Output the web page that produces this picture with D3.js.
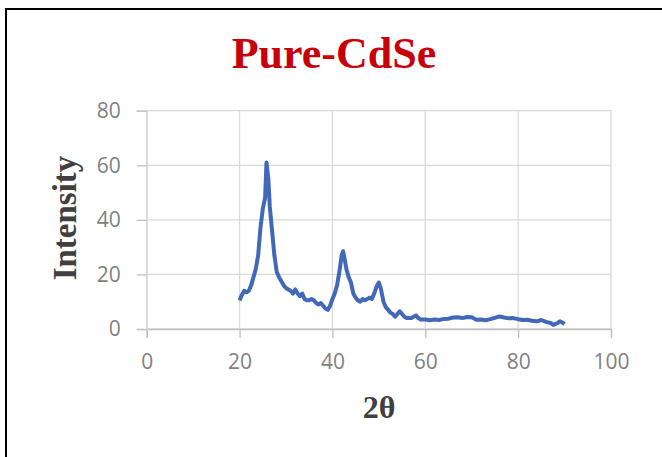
<!DOCTYPE html>
<html>
<head>
<meta charset="utf-8">
<script src="https://cdn.jsdelivr.net/npm/d3@7"></script>
<style>
  body { margin: 0; background: #fff; }
</style>
</head>
<body>
<script>
// xrd pattern of pure CdSe

var twoTheta = [20, 20.5, 21, 21.5, 22, 22.5, 23, 23.5, 24, 24.5, 25, 25.5, 25.8, 26.2, 26.5, 27, 27.5, 28, 28.5, 29, 29.5, 30,
  30.5, 31, 31.5, 32, 32.5, 33, 33.5, 34, 34.5, 35, 35.5, 36, 36.5, 37, 37.5, 38, 38.5, 39, 39.5, 40, 40.5, 41, 41.5, 42,
  42.3, 42.7, 43, 43.5, 44, 44.5, 45, 45.5, 46, 46.5, 47, 47.5, 48, 48.5, 49, 49.5, 50, 50.4, 51, 51.5, 52, 52.5, 53, 53.5,
  54, 54.5, 55, 55.5, 56, 57, 58, 58.5, 59, 60, 61, 62, 63, 64, 65, 66, 67, 68, 69, 70, 71, 72, 73, 74, 75, 76, 77, 78,
  79, 80, 81, 82, 83, 84, 85, 86, 87, 87.6, 88.5, 89, 89.5, 90];
var intensity = [10.5, 12.5, 14, 13.5, 14, 16, 19, 22, 27, 37, 44, 48, 61, 55, 45, 36, 27, 21, 19, 17.5, 16, 15,
  14.5, 14, 13, 14.5, 13, 12, 13, 11, 10.5, 10.5, 11, 10.5, 9.5, 9, 9.5, 8.5, 7.5, 7, 8.5, 11, 13, 16, 21, 27,
  28.5, 25, 22, 19, 17, 13, 11.5, 10.5, 10, 11, 10.5, 11, 11.5, 11, 13, 15.5, 17, 15, 10, 8, 7, 6, 5.5, 4.5,
  5.5, 6.5, 5.5, 4.5, 4, 4, 5, 4, 3.5, 3.5, 3.2, 3.5, 3.3, 3.7, 3.8, 4.2, 4.3, 4, 4.4, 4.3, 3.4, 3.5, 3.2, 3.6, 4.1, 4.6, 4.2, 3.9,
  4, 3.6, 3.3, 3.4, 3, 2.8, 3.3, 2.6, 2.2, 1.5, 2.2, 2.8, 2.4, 1.8];

var xTicks = [0, 20, 40, 60, 80, 100];
var yTicks = [0, 20, 40, 60, 80];

var chartTitle = "Pure-CdSe",
    xTitle = "2θ",
    yTitle = "Intensity";

var width = 662, height = 457;

var svg = d3.select("body").append("svg")
  .attr("width", width)
  .attr("height", height);

// outer frame
svg.append("rect")
  .attr("x", 6).attr("y", 9)
  .attr("width", 720).attr("height", 520)
  .attr("fill", "none")
  .attr("stroke", "#000")
  .attr("stroke-width", 2);

var x = d3.scaleLinear().domain([0, 100]).range([146.7, 611]);
var y = d3.scaleLinear().domain([0, 80]).range([329, 110.7]);

// gridlines
svg.append("g")
  .selectAll("line.v")
  .data(xTicks)
  .enter().append("line")
  .attr("x1", function(d){ return x(d); })
  .attr("x2", function(d){ return x(d); })
  .attr("y1", y(80)).attr("y2", y(0))
  .attr("stroke", "#d9d9d9").attr("stroke-width", 1.3);

svg.append("g")
  .selectAll("line.h")
  .data(yTicks)
  .enter().append("line")
  .attr("x1", x(0)).attr("x2", x(100))
  .attr("y1", function(d){ return y(d); })
  .attr("y2", function(d){ return y(d); })
  .attr("stroke", "#d9d9d9").attr("stroke-width", 1.3);

// axes
var xAxis = svg.append("g")
  .attr("transform", "translate(0," + y(0) + ")")
  .call(d3.axisBottom(x).tickValues(xTicks).tickSize(9).tickPadding(16));
var yAxis = svg.append("g")
  .attr("transform", "translate(" + x(0) + ",0)")
  .call(d3.axisLeft(y).tickValues(yTicks).tickSize(10).tickPadding(16));

[xAxis, yAxis].forEach(function(g){
  g.select(".domain").attr("stroke", "#bfbfbf").attr("stroke-width", 1.3);
  g.selectAll(".tick line").attr("stroke", "#bfbfbf").attr("stroke-width", 1.3);
  g.selectAll("text")
    .attr("fill", "#7f7f7f")
    .style("font-family", "'Open Sans', 'Liberation Sans', sans-serif")
    .style("font-size", "21px");
});
yAxis.select(".domain").attr("stroke", "#d9d9d9");

// the pattern
var line = d3.line()
  .x(function(d, i){ return x(twoTheta[i]); })
  .y(function(d){ return y(d); })
  .curve(d3.curveLinear);

svg.append("path")
  .datum(intensity)
  .attr("d", line)
  .attr("fill", "none")
  .attr("stroke", "#4169b8")
  .attr("stroke-width", 4)
  .attr("stroke-linejoin", "round");

// titles
svg.append("text")
  .attr("x", 334).attr("y", 68)
  .attr("text-anchor", "middle")
  .attr("fill", "#c8000a")
  .style("font-family", "'Liberation Serif', serif")
  .style("font-weight", "bold")
  .style("font-size", "44px")
  .text(chartTitle);

svg.append("text")
  .attr("x", 379).attr("y", 418)
  .attr("text-anchor", "middle")
  .attr("fill", "#404040")
  .style("font-family", "'Liberation Serif', serif")
  .style("font-weight", "bold")
  .style("font-size", "32px")
  .text(xTitle);

svg.append("text")
  .attr("transform", "translate(76,218) rotate(-90)")
  .attr("text-anchor", "middle")
  .attr("fill", "#404040")
  .style("font-family", "'Liberation Serif', serif")
  .style("font-weight", "bold")
  .style("font-size", "33px")
  .text(yTitle);
</script>
</body>
</html>
